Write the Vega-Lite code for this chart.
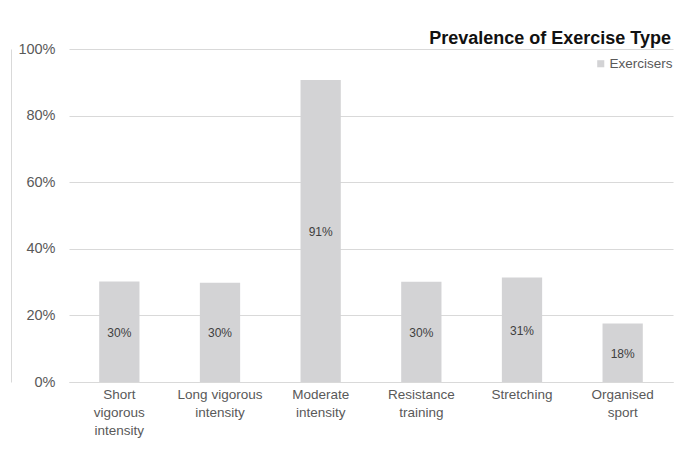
{
  "$schema": "https://vega.github.io/schema/vega-lite/v6.json",
  "width": 604,
  "height": 333,
  "autosize": {"type": "none"},
  "padding": {"left": 69, "top": 49, "right": 6, "bottom": 76},
  "background": "white",
  "config": {
    "view": {"stroke": null},
    "font": "Liberation Sans",
    "axis": {"labelFont": "Liberation Sans", "labelColor": "#595959"}
  },
  "title": {
    "text": "Prevalence of Exercise Type",
    "anchor": "end",
    "fontSize": 18,
    "fontWeight": "bold",
    "font": "Liberation Sans",
    "color": "#111111",
    "offset": -7,
    "dx": -2
  },
  "data": {
    "values": [
      {"type": "Short vigorous intensity", "series": "Exercisers", "value": 0.302, "label": "30%"},
      {"type": "Long vigorous intensity", "series": "Exercisers", "value": 0.298, "label": "30%"},
      {"type": "Moderate intensity", "series": "Exercisers", "value": 0.907, "label": "91%"},
      {"type": "Resistance training", "series": "Exercisers", "value": 0.301, "label": "30%"},
      {"type": "Stretching", "series": "Exercisers", "value": 0.314, "label": "31%"},
      {"type": "Organised sport", "series": "Exercisers", "value": 0.176, "label": "18%"}
    ]
  },
  "encoding": {
    "x": {
      "field": "type",
      "type": "nominal",
      "sort": null,
      "scale": {"paddingInner": 0.6, "paddingOuter": 0.3},
      "axis": {
        "title": null,
        "labelAngle": 0,
        "labelFontSize": 13.5,
        "labelLineHeight": 18,
        "labelPadding": 5,
        "labelBaseline": "top",
        "ticks": false,
        "domainColor": "#d9d9d9",
        "labelExpr": "datum.value == 'Short vigorous intensity' ? ['Short', 'vigorous', 'intensity'] : datum.value == 'Long vigorous intensity' ? ['Long vigorous', 'intensity'] : datum.value == 'Moderate intensity' ? ['Moderate', 'intensity'] : datum.value == 'Resistance training' ? ['Resistance', 'training'] : datum.value == 'Organised sport' ? ['Organised', 'sport'] : datum.value"
      }
    }
  },
  "layer": [
    {
      "mark": {"type": "bar", "color": "#d3d3d5"},
      "encoding": {
        "y": {
          "field": "value",
          "type": "quantitative",
          "scale": {"domain": [0, 1]},
          "axis": {
            "title": null,
            "format": ".0%",
            "values": [0, 0.2, 0.4, 0.6, 0.8, 1],
            "labelFontSize": 14.5,
            "labelPadding": 14,
            "ticks": false,
            "domain": false,
            "gridColor": "#d9d9d9"
          }
        },
        "fill": {
          "field": "series",
          "type": "nominal",
          "scale": {"range": ["#d3d3d5"]},
          "legend": {
            "title": null,
            "orient": "none",
            "legendX": 525,
            "legendY": 8,
            "symbolType": "square",
            "symbolSize": 50,
            "symbolStrokeWidth": 0,
            "labelFontSize": 13.5,
            "labelColor": "#595959",
            "labelFont": "Liberation Sans",
            "labelOffset": 2,
            "padding": 0
          }
        }
      }
    },
    {
      "mark": {"type": "text", "fontSize": 12, "fill": "#404040", "baseline": "middle", "dy": 1},
      "encoding": {
        "y": {
          "field": "value",
          "type": "quantitative",
          "scale": {"domain": [0, 2]},
          "axis": {
            "orient": "left",
            "offset": 58,
            "labels": false,
            "ticks": false,
            "grid": false,
            "title": null,
            "domainColor": "#d9d9d9"
          }
        },
        "text": {"field": "label"}
      }
    }
  ],
  "resolve": {"scale": {"y": "independent"}, "axis": {"y": "independent"}}
}
